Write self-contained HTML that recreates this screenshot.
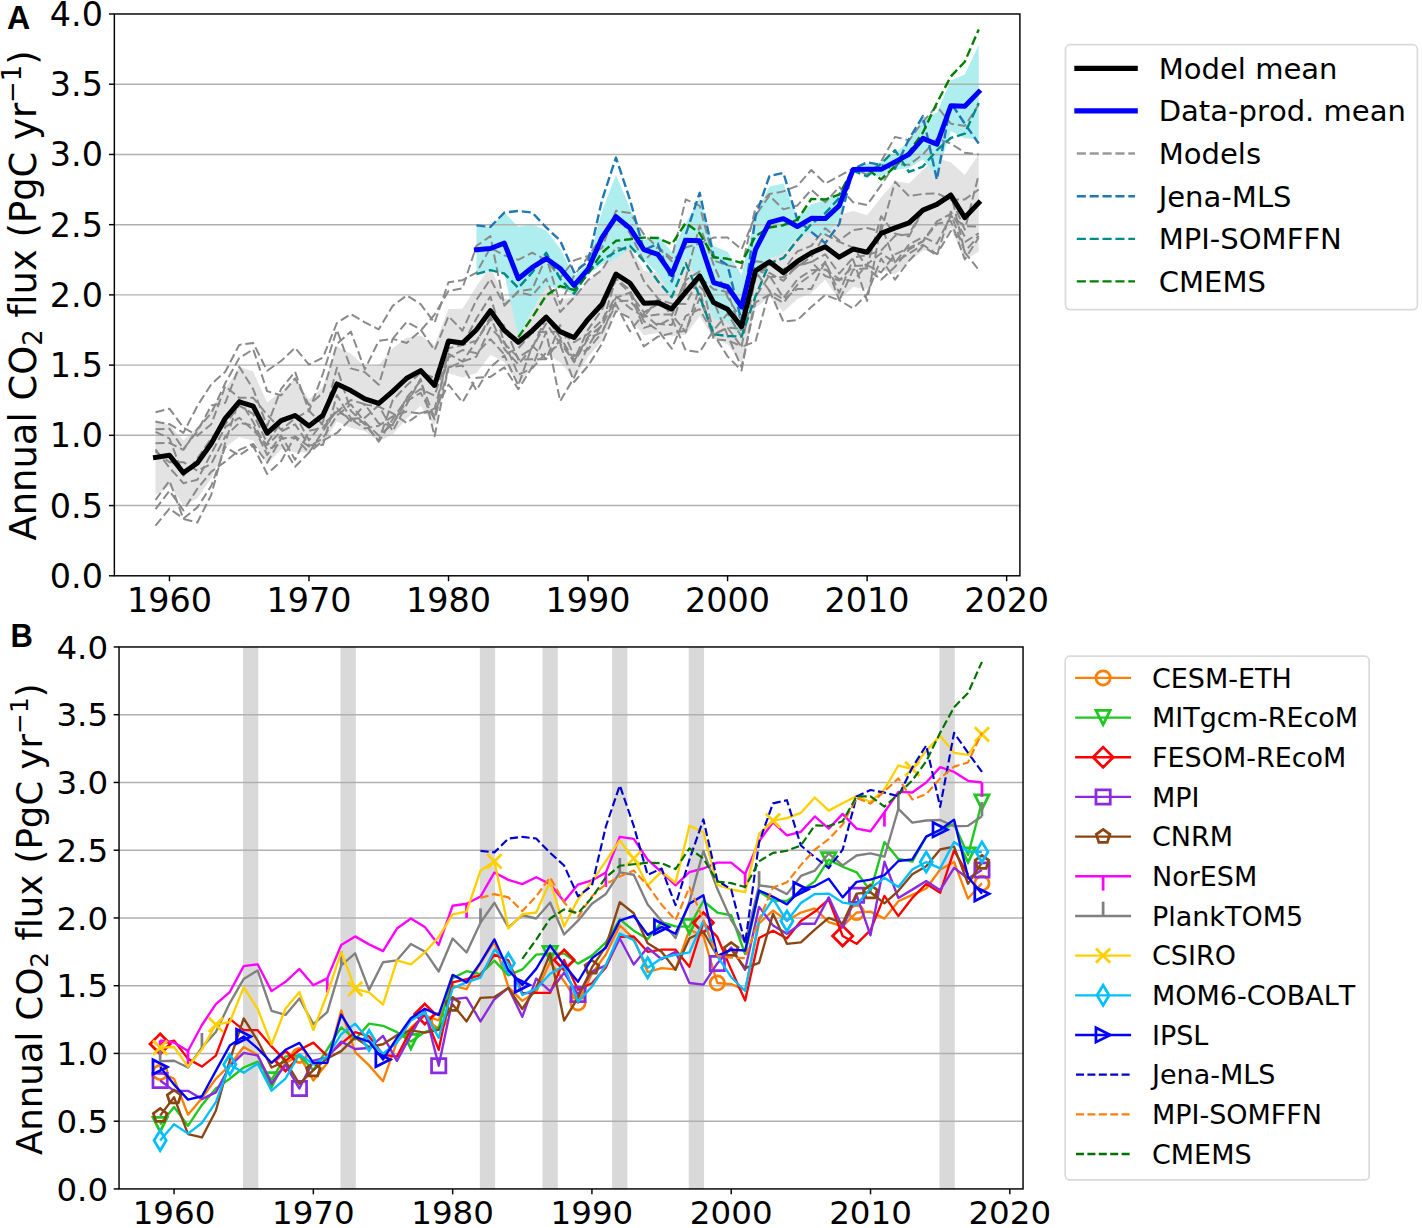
<!DOCTYPE html>
<html lang="en"><head><meta charset="utf-8"><title>Annual CO2 flux</title>
<style>html,body{margin:0;padding:0;background:#fff}svg{display:block}</style></head>
<body>
<svg width="1422" height="1228" viewBox="0 0 1422 1228" font-family="'DejaVu Sans','Liberation Sans',sans-serif" fill="#000" style="font-variant-ligatures:none;font-kerning:none">
<rect width="1422" height="1228" fill="#fff"/>
<g id="panelA">
<clipPath id="clipA"><rect x="114.35" y="13.98" width="905.55" height="561.82"/></clipPath>
<g clip-path="url(#clipA)">
<polygon points="155.51,419.73 169.46,424.88 183.42,440.28 197.37,427.27 211.32,408.88 225.28,389.27 239.23,366.76 253.18,371.61 267.14,402.26 281.09,392.26 295.04,378.78 308.99,399.29 322.95,386.69 336.90,346.39 350.85,353.42 364.81,366.42 378.76,365.23 392.71,348.20 406.67,337.66 420.62,335.41 434.57,345.06 448.52,308.89 462.48,308.64 476.43,286.31 490.38,266.54 504.34,298.48 518.29,299.65 532.24,294.05 546.20,280.19 560.15,301.11 574.10,296.25 588.05,281.62 602.01,267.73 615.96,238.96 629.91,246.68 643.87,270.95 657.82,272.27 671.77,281.66 685.73,249.52 699.68,235.69 713.63,266.87 727.58,274.60 741.54,289.30 755.49,233.52 769.44,226.78 783.40,233.33 797.35,223.93 811.30,212.62 825.26,214.08 839.21,214.40 853.16,211.02 867.11,215.15 881.07,197.52 895.02,181.10 908.97,183.61 922.93,169.70 936.88,158.13 950.83,162.20 964.79,174.89 978.74,154.32 978.74,251.46 964.79,260.31 950.83,227.98 936.88,250.63 922.93,250.62 908.97,262.09 895.02,274.57 881.07,269.23 867.11,289.32 853.16,287.10 839.21,299.94 825.26,279.41 811.30,292.88 797.35,298.96 783.40,311.81 769.44,296.74 755.49,308.05 741.54,363.97 727.58,344.07 713.63,338.25 699.68,316.28 685.73,334.81 671.77,336.28 657.82,332.99 643.87,335.36 629.91,319.34 615.96,309.30 602.01,340.73 588.05,357.04 574.10,378.64 560.15,362.21 546.20,354.03 532.24,367.28 518.29,384.83 504.34,362.12 490.38,354.90 476.43,373.05 462.48,377.52 448.52,373.20 434.57,425.85 420.62,405.75 406.67,418.76 392.71,434.43 378.76,441.61 364.81,431.32 350.85,427.72 336.90,421.54 322.95,443.94 308.99,452.61 295.04,452.22 281.09,449.15 267.14,464.19 253.18,440.48 239.23,436.91 225.28,447.24 211.32,478.10 197.37,498.57 183.42,505.35 169.46,485.70 155.51,495.01" fill="#e3e3e3"/>
<polygon points="476.43,225.36 490.38,226.91 504.34,212.58 518.29,226.68 532.24,224.53 546.20,230.50 560.15,248.48 574.10,276.09 588.05,263.71 602.01,210.90 615.96,174.63 629.91,207.63 643.87,240.02 657.82,235.20 671.77,252.10 685.73,223.22 699.68,198.17 713.63,245.98 727.58,251.78 741.54,275.14 755.49,215.73 769.44,186.47 783.40,183.61 797.35,216.93 811.30,204.26 825.26,200.37 839.21,192.38 853.16,168.67 867.11,163.40 881.07,162.23 895.02,153.57 908.97,140.82 922.93,117.38 936.88,112.63 950.83,80.59 964.79,74.54 978.74,44.73 978.74,139.13 964.79,138.16 950.83,130.99 936.88,175.92 922.93,159.37 908.97,167.95 895.02,170.09 881.07,176.51 867.11,174.88 853.16,170.26 839.21,218.74 825.26,236.87 811.30,232.33 797.35,236.14 783.40,253.73 769.44,258.17 755.49,283.60 741.54,338.66 727.58,321.71 713.63,319.08 699.68,283.36 685.73,257.10 671.77,296.57 657.82,273.40 643.87,259.30 629.91,248.62 615.96,258.87 602.01,264.18 588.05,274.76 574.10,294.69 560.15,288.39 546.20,286.61 532.24,310.37 518.29,337.03 504.34,273.54 490.38,270.17 476.43,274.10" fill="#afeeee"/>
<line x1="114.35" x2="1019.9" y1="505.57" y2="505.57" stroke="#b0b0b0" stroke-width="1.45"/>
<line x1="114.35" x2="1019.9" y1="435.34" y2="435.34" stroke="#b0b0b0" stroke-width="1.45"/>
<line x1="114.35" x2="1019.9" y1="365.12" y2="365.12" stroke="#b0b0b0" stroke-width="1.45"/>
<line x1="114.35" x2="1019.9" y1="294.89" y2="294.89" stroke="#b0b0b0" stroke-width="1.45"/>
<line x1="114.35" x2="1019.9" y1="224.66" y2="224.66" stroke="#b0b0b0" stroke-width="1.45"/>
<line x1="114.35" x2="1019.9" y1="154.44" y2="154.44" stroke="#b0b0b0" stroke-width="1.45"/>
<line x1="114.35" x2="1019.9" y1="84.21" y2="84.21" stroke="#b0b0b0" stroke-width="1.45"/>
<polyline points="155.51,431.83 169.46,438.44 183.42,475.66 197.37,458.52 211.32,438.44 225.28,424.25 239.23,405.57 253.18,413.86 267.14,443.07 281.09,422.00 295.04,414.28 308.99,440.26 322.95,422.00 336.90,367.65 350.85,410.77 364.81,424.53 378.76,440.96 392.71,400.23 406.67,385.48 420.62,372.84 434.57,377.90 448.52,341.94 462.48,345.59 476.43,318.49 490.38,296.44 504.34,343.35 518.29,357.67 532.24,348.26 546.20,317.36 560.15,337.31 574.10,359.78 588.05,329.58 602.01,309.64 615.96,279.44 629.91,293.06 643.87,327.90 657.82,323.68 671.77,325.09 685.73,283.79 699.68,290.40 713.63,339.13 727.58,340.26 741.54,346.30 755.49,277.33 769.44,263.99 783.40,274.52 797.35,266.10 811.30,261.88 825.26,276.07 839.21,280.49 853.16,266.10 867.11,265.11 881.07,272.42 895.02,254.44 908.97,247.84 922.93,241.24 936.88,221.43 950.83,213.78 964.79,251.63 978.74,235.76" fill="none" stroke="#8a8a8a" stroke-width="2.0" stroke-dasharray="9 3.9" stroke-linejoin="round"/>
<polyline points="155.51,509.08 169.46,490.82 183.42,510.35 197.37,488.72 211.32,471.58 225.28,461.61 239.23,449.95 253.18,443.91 267.14,462.73 281.09,438.44 295.04,437.31 308.99,452.62 322.95,431.13 336.90,408.38 350.85,420.88 364.81,404.44 378.76,406.69 392.71,413.29 406.67,422.98 420.62,413.15 434.57,408.66 448.52,357.25 462.48,350.09 476.43,353.18 490.38,339.13 504.34,354.44 518.29,348.26 532.24,332.95 546.20,331.83 560.15,331.83 574.10,342.22 588.05,333.94 602.01,320.17 615.96,296.29 629.91,308.09 643.87,316.80 657.82,299.24 671.77,303.67 685.73,303.88 699.68,277.33 713.63,289.27 727.58,292.08 741.54,332.25 755.49,267.50 769.44,276.77 783.40,277.33 797.35,266.80 811.30,256.97 825.26,234.49 839.21,241.80 853.16,247.56 867.11,266.80 881.07,216.24 895.02,233.65 908.97,236.46 922.93,210.62 936.88,204.02 950.83,197.41 964.79,229.72 978.74,174.66" fill="none" stroke="#8a8a8a" stroke-width="2.0" stroke-dasharray="9 3.9" stroke-linejoin="round"/>
<polyline points="155.51,412.17 169.46,408.66 183.42,427.62 197.37,435.63 211.32,424.25 225.28,386.19 239.23,397.84 253.18,397.84 267.14,414.70 281.09,429.73 295.04,418.49 308.99,410.77 322.95,424.81 336.90,411.89 350.85,399.95 364.81,404.30 378.76,423.41 392.71,425.23 406.67,397.56 420.62,381.13 434.57,418.35 448.52,348.26 462.48,345.03 476.43,340.82 490.38,319.61 504.34,325.51 518.29,359.50 532.24,359.22 546.20,359.22 560.15,325.09 574.10,355.99 588.05,349.25 602.01,332.81 615.96,301.21 629.91,300.79 643.87,316.66 657.82,314.41 671.77,314.41 685.73,332.11 699.68,286.46 713.63,301.21 727.58,335.34 741.54,367.22 755.49,302.33 769.44,294.75 783.40,302.90 797.35,284.78 811.30,274.95 825.26,262.30 839.21,300.23 853.16,308.37 867.11,294.19 881.07,258.65 895.02,279.58 908.97,260.90 922.93,246.15 936.88,255.42 950.83,211.60 964.79,236.60" fill="none" stroke="#8a8a8a" stroke-width="2.0" stroke-dasharray="9 3.9" stroke-linejoin="round"/>
<polyline points="155.51,451.50 169.46,462.17 183.42,462.17 197.37,470.74 211.32,463.72 225.28,436.47 239.23,422.84 253.18,425.51 267.14,454.87 281.09,435.20 295.04,459.78 308.99,430.85 322.95,427.62 336.90,411.19 350.85,418.77 364.81,417.79 378.76,405.15 392.71,431.13 406.67,404.44 420.62,378.74 434.57,436.19 448.52,367.22 462.48,365.54 476.43,390.26 490.38,367.22 504.34,355.43 518.29,385.48 532.24,345.73 546.20,358.94 560.15,339.70 574.10,362.31 588.05,338.57 602.01,332.11 615.96,304.30 629.91,331.27 643.87,313.71 657.82,325.79 671.77,318.07 685.73,350.37 699.68,352.06 713.63,330.14 727.58,313.71 741.54,336.75 755.49,271.43 769.44,290.68 783.40,299.38 797.35,288.99 811.30,288.99 825.26,261.60 839.21,292.78 853.16,259.35 867.11,300.93 881.07,224.66 895.02,262.30 908.97,253.60 922.93,244.75 936.88,254.16 950.83,230.98 964.79,242.08 978.74,233.23" fill="none" stroke="#8a8a8a" stroke-width="2.0" stroke-dasharray="9 3.9" stroke-linejoin="round"/>
<polyline points="155.51,499.81 169.46,480.71 183.42,518.92 197.37,522.43 211.32,494.76 225.28,442.37 239.23,399.11 253.18,422.00 267.14,449.95 281.09,443.35 295.04,466.81 308.99,452.62 322.95,440.54 336.90,432.96 350.85,418.77 364.81,428.60 378.76,425.79 392.71,416.38 406.67,411.47 420.62,413.71 434.57,410.91 448.52,384.64 462.48,402.20 476.43,377.76 490.38,376.92 504.34,367.36 518.29,389.28 532.24,367.08 546.20,331.83 560.15,401.21 574.10,377.48 588.05,346.16 602.01,324.39 615.96,278.46 629.91,289.97 643.87,321.23 657.82,330.00 671.77,348.68 685.73,315.96 699.68,309.22 713.63,334.36 727.58,327.76 741.54,346.86 755.49,341.52 769.44,290.54 783.40,321.72 797.35,320.17 811.30,306.97 825.26,294.89 839.21,300.37 853.16,269.61 867.11,268.20 881.07,279.72 895.02,266.80 908.97,249.52 922.93,241.38 936.88,223.82 950.83,221.01 964.79,259.50 978.74,237.44" fill="none" stroke="#8a8a8a" stroke-width="2.0" stroke-dasharray="9 3.9" stroke-linejoin="round"/>
<polyline points="155.51,421.72 169.46,424.11 183.42,432.82 197.37,405.85 211.32,384.22 225.28,371.72 239.23,344.89 253.18,342.93 267.14,370.74 281.09,361.04 295.04,347.70 308.99,364.56 322.95,357.53 336.90,322.98 350.85,313.99 364.81,322.28 378.76,329.30 392.71,305.85 406.67,295.45 420.62,304.16 434.57,322.84 448.52,282.25 462.48,280.14 476.43,272.70 490.38,247.70 504.34,255.42 518.29,259.78 532.24,252.75 546.20,259.78 560.15,277.89 574.10,260.34 588.05,255.98 602.01,247.84 615.96,210.76 629.91,213.00 643.87,234.35 657.82,247.42 671.77,261.18 685.73,247.42 699.68,243.62 713.63,237.58 727.58,237.58 741.54,249.38 755.49,215.39 769.44,195.73 783.40,209.35 797.35,205.56 811.30,189.69 825.26,202.33 839.21,187.02 853.16,202.33 867.11,205.00 881.07,185.34 895.02,164.27 908.97,164.83 922.93,154.44 936.88,138.56 950.83,143.48 964.79,152.75 978.74,154.44" fill="none" stroke="#8a8a8a" stroke-width="2.0" stroke-dasharray="9 3.9" stroke-linejoin="round"/>
<polyline points="155.51,443.35 169.46,442.93 183.42,449.95 197.37,429.02 211.32,413.15 225.28,383.10 239.23,358.09 253.18,349.25 267.14,391.10 281.09,395.46 295.04,378.32 308.99,405.01 322.95,392.51 336.90,344.05 350.85,331.55 364.81,369.47 378.76,340.82 392.71,338.85 406.67,321.86 420.62,329.58 434.57,350.37 448.52,316.24 462.48,330.71 476.43,299.81 490.38,279.16 504.34,304.72 518.29,292.08 532.24,295.45 546.20,278.88 560.15,312.03 574.10,297.70 588.05,280.14 602.01,270.03 615.96,247.56 629.91,250.08 643.87,280.84 657.82,298.12 671.77,315.68 685.73,278.04 699.68,225.51 713.63,264.69 727.58,297.14 741.54,320.17 755.49,261.18 769.44,262.87 783.40,270.17 797.35,251.35 811.30,245.87 825.26,228.17 839.21,240.39 853.16,230.14 867.11,228.03 881.07,231.40 895.02,181.82 908.97,196.15 922.93,193.90 936.88,193.34 950.83,199.80 964.79,199.38 978.74,189.55" fill="none" stroke="#8a8a8a" stroke-width="2.0" stroke-dasharray="9 3.9" stroke-linejoin="round"/>
<polyline points="155.51,429.31 169.46,428.74 183.42,448.97 197.37,431.13 211.32,405.57 225.28,402.76 239.23,366.80 253.18,389.14 267.14,426.07 281.09,388.99 295.04,371.72 308.99,411.05 322.95,373.54 336.90,330.00 350.85,368.35 364.81,372.14 378.76,384.78 392.71,338.85 406.67,342.93 420.62,330.71 434.57,314.55 448.52,291.10 462.48,288.29 476.43,245.87 490.38,236.18 504.34,305.85 518.29,291.10 532.24,289.27 546.20,256.97 560.15,303.74 574.10,275.65 588.05,256.97 602.01,235.90 615.96,214.55 629.91,233.23 643.87,261.18 657.82,246.85 671.77,258.37 685.73,199.38 699.68,205.84 713.63,260.48 727.58,265.39 741.54,268.20 755.49,207.81 769.44,194.04 783.40,191.37 797.35,185.90 811.30,170.03 825.26,183.65 839.21,176.07 853.16,168.48 867.11,174.66 881.07,161.46 895.02,136.88 908.97,140.39 922.93,121.57 936.88,106.12 950.83,123.68 964.79,125.92 978.74,104.57" fill="none" stroke="#8a8a8a" stroke-width="2.0" stroke-dasharray="9 3.9" stroke-linejoin="round"/>
<polyline points="155.51,525.52 169.46,508.66 183.42,518.49 197.37,507.40 211.32,485.77 225.28,446.93 239.23,455.43 253.18,445.88 267.14,473.97 281.09,461.33 295.04,436.19 308.99,446.58 322.95,438.44 336.90,415.40 350.85,404.44 364.81,422.00 378.76,435.63 392.71,424.11 406.67,401.07 420.62,392.79 434.57,419.19 448.52,367.65 462.48,361.61 476.43,356.69 490.38,327.76 504.34,341.94 518.29,374.81 532.24,368.21 546.20,352.76 560.15,344.47 574.10,381.97 588.05,365.96 602.01,343.63 615.96,311.04 629.91,317.92 643.87,346.44 657.82,336.61 671.77,333.23 685.73,330.57 699.68,298.12 713.63,334.36 727.58,356.34 741.54,370.60 755.49,297.00 769.44,275.23 783.40,298.12 797.35,279.44 811.30,270.17 825.26,269.61 839.21,279.02 853.16,281.13 867.11,264.27 881.07,253.32 895.02,262.73 908.97,244.61 922.93,236.95 936.88,243.48 950.83,216.09 964.79,226.07 978.74,226.49" fill="none" stroke="#8a8a8a" stroke-width="2.0" stroke-dasharray="9 3.9" stroke-linejoin="round"/>
<polyline points="155.51,449.39 169.46,467.65 183.42,483.24 197.37,479.73 211.32,453.46 225.28,427.20 239.23,417.79 253.18,430.15 267.14,445.04 281.09,431.55 295.04,424.39 308.99,445.18 322.95,445.04 336.90,395.17 350.85,418.21 364.81,423.13 378.76,441.67 392.71,419.19 406.67,398.83 420.62,388.99 434.57,395.60 448.52,353.88 462.48,361.61 476.43,341.24 490.38,317.08 504.34,348.97 518.29,364.42 532.24,347.70 546.20,323.54 560.15,343.35 574.10,361.04 588.05,336.75 602.01,325.79 615.96,297.70 629.91,292.64 643.87,312.45 657.82,304.16 671.77,311.32 685.73,280.14 699.68,271.29 713.63,334.36 727.58,327.76 741.54,328.60 755.49,266.38 769.44,272.98 783.40,280.84 797.35,265.39 811.30,262.02 825.26,254.30 839.21,273.54 853.16,257.53 867.11,255.14 881.07,250.51 895.02,235.90 908.97,234.21 922.93,210.62 936.88,203.45 950.83,193.06 964.79,252.33 978.74,269.89" fill="none" stroke="#8a8a8a" stroke-width="2.0" stroke-dasharray="9 3.9" stroke-linejoin="round"/>
<polyline points="476.43,225.36 490.38,226.91 504.34,212.58 518.29,210.90 532.24,212.58 546.20,227.47 560.15,240.53 574.10,272.42 588.05,261.46 602.01,200.08 615.96,157.53 629.91,199.38 643.87,250.23 657.82,243.62 671.77,281.69 685.73,234.49 699.68,192.78 713.63,256.12 727.58,265.39 741.54,321.23 755.49,216.52 769.44,176.07 783.40,172.83 797.35,219.75 811.30,231.83 825.26,243.20 839.21,224.10 853.16,168.90 867.11,162.30 881.07,164.97 895.02,168.76 908.97,138.98 922.93,116.09 936.88,179.72 950.83,102.89 964.79,123.68 978.74,143.48" fill="none" stroke="#1f77b4" stroke-width="2.4" stroke-dasharray="9 3.9" stroke-linejoin="round"/>
<polyline points="476.43,274.10 490.38,270.17 504.34,273.54 518.29,287.87 532.24,272.42 546.20,252.75 560.15,278.74 574.10,293.77 588.05,272.42 602.01,259.78 615.96,251.91 629.91,245.73 643.87,261.18 657.82,281.13 671.77,297.14 685.73,263.15 699.68,296.29 713.63,334.22 727.58,336.04 741.54,336.61 755.49,296.29 769.44,263.43 783.40,257.95 797.35,240.11 811.30,224.10 825.26,213.15 839.21,197.98 853.16,170.59 867.11,176.35 881.07,163.71 895.02,150.22 908.97,171.99 922.93,166.51 936.88,150.22 950.83,138.00 964.79,133.65 978.74,102.89" fill="none" stroke="#008b8b" stroke-width="2.4" stroke-dasharray="9 3.9" stroke-linejoin="round"/>
<polyline points="518.29,337.31 532.24,317.36 546.20,295.45 560.15,286.04 574.10,289.97 588.05,273.82 602.01,252.75 615.96,240.81 629.91,239.27 643.87,237.58 657.82,238.15 671.77,244.19 685.73,222.84 699.68,233.23 713.63,257.25 727.58,258.79 741.54,262.87 755.49,236.18 769.44,227.47 783.40,225.22 797.35,219.75 811.30,198.96 825.26,199.52 839.21,194.61 853.16,168.90 867.11,168.76 881.07,179.44 895.02,166.51 908.97,152.19 922.93,132.52 936.88,102.89 950.83,76.48 964.79,61.73 978.74,29.43" fill="none" stroke="#008000" stroke-width="2.4" stroke-dasharray="9 3.9" stroke-linejoin="round"/>
<polyline points="155.51,457.37 169.46,455.29 183.42,472.82 197.37,462.92 211.32,443.49 225.28,418.26 239.23,401.83 253.18,406.05 267.14,433.22 281.09,420.71 295.04,415.50 308.99,425.95 322.95,415.32 336.90,383.97 350.85,390.57 364.81,398.87 378.76,403.42 392.71,391.31 406.67,378.21 420.62,370.58 434.57,385.46 448.52,341.04 462.48,343.08 476.43,329.68 490.38,310.72 504.34,330.30 518.29,342.24 532.24,330.66 546.20,317.11 560.15,331.66 574.10,337.45 588.05,319.33 602.01,304.23 615.96,274.13 629.91,283.01 643.87,303.16 657.82,302.63 671.77,308.97 685.73,292.17 699.68,275.98 713.63,302.56 727.58,309.34 741.54,326.63 755.49,270.79 769.44,261.76 783.40,272.57 797.35,261.45 811.30,252.75 825.26,246.74 839.21,257.17 853.16,249.06 867.11,252.23 881.07,233.37 895.02,227.84 908.97,222.85 922.93,210.16 936.88,204.38 950.83,195.09 964.79,217.60 978.74,202.89" fill="none" stroke="#000" stroke-width="5.0" stroke-linejoin="round" stroke-linecap="square"/>
<polyline points="476.43,249.73 490.38,248.54 504.34,243.06 518.29,278.69 532.24,267.45 546.20,258.56 560.15,268.44 574.10,285.39 588.05,269.23 602.01,237.54 615.96,216.75 629.91,228.13 643.87,249.66 657.82,254.30 671.77,274.34 685.73,240.16 699.68,240.77 713.63,282.53 727.58,286.74 741.54,306.90 755.49,249.66 769.44,222.32 783.40,218.67 797.35,226.54 811.30,218.30 825.26,218.62 839.21,205.56 853.16,169.46 867.11,169.14 881.07,169.37 895.02,161.83 908.97,154.39 922.93,138.38 936.88,144.28 950.83,105.79 964.79,106.35 978.74,91.93" fill="none" stroke="#0000ff" stroke-width="5.0" stroke-linejoin="round" stroke-linecap="square"/>
</g>
<rect x="114.35" y="13.98" width="905.55" height="561.82" fill="none" stroke="#000" stroke-width="1.45"/>
<line x1="108.94999999999999" x2="114.35" y1="575.80" y2="575.80" stroke="#000" stroke-width="1.45"/>
<text x="102.90" y="587.82" font-size="33.4" text-anchor="end">0.0</text>
<line x1="108.94999999999999" x2="114.35" y1="505.57" y2="505.57" stroke="#000" stroke-width="1.45"/>
<text x="102.90" y="517.60" font-size="33.4" text-anchor="end">0.5</text>
<line x1="108.94999999999999" x2="114.35" y1="435.34" y2="435.34" stroke="#000" stroke-width="1.45"/>
<text x="102.90" y="447.37" font-size="33.4" text-anchor="end">1.0</text>
<line x1="108.94999999999999" x2="114.35" y1="365.12" y2="365.12" stroke="#000" stroke-width="1.45"/>
<text x="102.90" y="377.14" font-size="33.4" text-anchor="end">1.5</text>
<line x1="108.94999999999999" x2="114.35" y1="294.89" y2="294.89" stroke="#000" stroke-width="1.45"/>
<text x="102.90" y="306.91" font-size="33.4" text-anchor="end">2.0</text>
<line x1="108.94999999999999" x2="114.35" y1="224.66" y2="224.66" stroke="#000" stroke-width="1.45"/>
<text x="102.90" y="236.69" font-size="33.4" text-anchor="end">2.5</text>
<line x1="108.94999999999999" x2="114.35" y1="154.44" y2="154.44" stroke="#000" stroke-width="1.45"/>
<text x="102.90" y="166.46" font-size="33.4" text-anchor="end">3.0</text>
<line x1="108.94999999999999" x2="114.35" y1="84.21" y2="84.21" stroke="#000" stroke-width="1.45"/>
<text x="102.90" y="96.23" font-size="33.4" text-anchor="end">3.5</text>
<line x1="108.94999999999999" x2="114.35" y1="13.98" y2="13.98" stroke="#000" stroke-width="1.45"/>
<text x="102.90" y="26.00" font-size="33.4" text-anchor="end">4.0</text>
<line x1="169.46" x2="169.46" y1="575.8" y2="581.1999999999999" stroke="#000" stroke-width="1.45"/>
<text x="169.46" y="612.30" font-size="33.4" text-anchor="middle">1960</text>
<line x1="308.99" x2="308.99" y1="575.8" y2="581.1999999999999" stroke="#000" stroke-width="1.45"/>
<text x="308.99" y="612.30" font-size="33.4" text-anchor="middle">1970</text>
<line x1="448.52" x2="448.52" y1="575.8" y2="581.1999999999999" stroke="#000" stroke-width="1.45"/>
<text x="448.52" y="612.30" font-size="33.4" text-anchor="middle">1980</text>
<line x1="588.05" x2="588.05" y1="575.8" y2="581.1999999999999" stroke="#000" stroke-width="1.45"/>
<text x="588.05" y="612.30" font-size="33.4" text-anchor="middle">1990</text>
<line x1="727.58" x2="727.58" y1="575.8" y2="581.1999999999999" stroke="#000" stroke-width="1.45"/>
<text x="727.58" y="612.30" font-size="33.4" text-anchor="middle">2000</text>
<line x1="867.11" x2="867.11" y1="575.8" y2="581.1999999999999" stroke="#000" stroke-width="1.45"/>
<text x="867.11" y="612.30" font-size="33.4" text-anchor="middle">2010</text>
<line x1="1006.64" x2="1006.64" y1="575.8" y2="581.1999999999999" stroke="#000" stroke-width="1.45"/>
<text x="1006.64" y="612.30" font-size="33.4" text-anchor="middle">2020</text>
<text transform="translate(35.60,295.49) rotate(-90)" font-size="36.9" text-anchor="middle">Annual CO<tspan font-size="25.83" dy="6.46">2</tspan><tspan dy="-6.46"> flux (PgC yr</tspan><tspan font-size="25.83" dy="-14.76">−1</tspan><tspan dy="14.76">)</tspan></text>
<text transform="translate(6.9,29.1) scale(0.965,1)" font-family="'Liberation Sans',sans-serif" font-weight="bold" font-size="33.3">A</text>
<rect x="1065.5" y="44.7" width="351.9" height="264.9" rx="4.5" fill="#fff" stroke="#dadada" stroke-width="1.7"/>
<line x1="1076.9" x2="1135.2" y1="68.4" y2="68.4" stroke="#000" stroke-width="5.2" stroke-linecap="square"/>
<text x="1158.7" y="78.90" font-size="29.05">Model mean</text>
<line x1="1076.9" x2="1135.2" y1="110.8" y2="110.8" stroke="#0000ff" stroke-width="5.2" stroke-linecap="square"/>
<text x="1158.7" y="121.30" font-size="29.05">Data-prod. mean</text>
<line x1="1076.8" x2="1135.0" y1="153.5" y2="153.5" stroke="#999" stroke-width="2.4" stroke-dasharray="9.1 3.77"/>
<text x="1158.7" y="164.00" font-size="29.05">Models</text>
<line x1="1076.8" x2="1135.0" y1="196.2" y2="196.2" stroke="#1f77b4" stroke-width="2.4" stroke-dasharray="9.1 3.77"/>
<text x="1158.7" y="206.70" font-size="29.05">Jena-MLS</text>
<line x1="1076.8" x2="1135.0" y1="238.9" y2="238.9" stroke="#008b8b" stroke-width="2.4" stroke-dasharray="9.1 3.77"/>
<text x="1158.7" y="249.40" font-size="29.05">MPI-SOMFFN</text>
<line x1="1076.8" x2="1135.0" y1="281.4" y2="281.4" stroke="#008000" stroke-width="2.4" stroke-dasharray="9.1 3.77"/>
<text x="1158.7" y="291.90" font-size="29.05">CMEMS</text>
</g>
<g id="panelB">
<clipPath id="clipB"><rect x="119.04" y="646.97" width="904.00" height="541.96"/></clipPath>
<g clip-path="url(#clipB)">
<rect x="243.01" y="646.97" width="15.32" height="541.96" fill="#d9d9d9"/>
<rect x="340.51" y="646.97" width="15.32" height="541.96" fill="#d9d9d9"/>
<rect x="479.80" y="646.97" width="15.32" height="541.96" fill="#d9d9d9"/>
<rect x="542.49" y="646.97" width="15.32" height="541.96" fill="#d9d9d9"/>
<rect x="612.13" y="646.97" width="15.32" height="541.96" fill="#d9d9d9"/>
<rect x="688.74" y="646.97" width="15.32" height="541.96" fill="#d9d9d9"/>
<rect x="939.47" y="646.97" width="15.32" height="541.96" fill="#d9d9d9"/>
<line x1="119.04" x2="1023.04" y1="1121.18" y2="1121.18" stroke="#b0b0b0" stroke-width="1.45"/>
<line x1="119.04" x2="1023.04" y1="1053.44" y2="1053.44" stroke="#b0b0b0" stroke-width="1.45"/>
<line x1="119.04" x2="1023.04" y1="985.70" y2="985.70" stroke="#b0b0b0" stroke-width="1.45"/>
<line x1="119.04" x2="1023.04" y1="917.95" y2="917.95" stroke="#b0b0b0" stroke-width="1.45"/>
<line x1="119.04" x2="1023.04" y1="850.21" y2="850.21" stroke="#b0b0b0" stroke-width="1.45"/>
<line x1="119.04" x2="1023.04" y1="782.46" y2="782.46" stroke="#b0b0b0" stroke-width="1.45"/>
<line x1="119.04" x2="1023.04" y1="714.72" y2="714.72" stroke="#b0b0b0" stroke-width="1.45"/>
<polyline points="160.13,1072.41 174.06,1078.78 187.99,1114.68 201.92,1098.15 215.85,1078.78 229.78,1065.09 243.71,1047.07 257.63,1055.07 271.56,1083.25 285.49,1062.92 299.42,1055.47 313.35,1080.54 327.28,1062.92 341.21,1010.49 355.14,1052.09 369.07,1065.36 383.00,1081.22 396.93,1041.92 410.86,1027.70 424.78,1015.50 438.71,1020.38 452.64,985.70 466.57,989.22 480.50,963.07 494.43,941.80 508.36,987.05 522.29,1000.87 536.22,991.79 550.15,961.98 564.08,981.22 578.00,1002.90 591.93,973.77 605.86,954.53 619.79,925.40 633.72,938.54 647.65,972.15 661.58,968.08 675.51,969.44 689.44,929.60 703.37,935.97 717.30,982.99 731.22,984.07 745.15,989.90 759.08,923.37 773.01,910.50 786.94,920.66 800.87,912.53 814.80,908.47 828.73,922.15 842.66,926.42 856.59,912.53 870.52,911.58 884.45,918.63 898.37,901.28 912.30,894.92 926.23,888.55 940.16,869.44 954.09,862.06 968.02,898.57 981.95,883.26" fill="none" stroke="#ff8000" stroke-width="2.35" stroke-linejoin="round"/>
<circle cx="160.13" cy="1072.41" r="7.15" fill="none" stroke="#ff8000" stroke-width="2.75"/>
<circle cx="299.42" cy="1055.47" r="7.15" fill="none" stroke="#ff8000" stroke-width="2.75"/>
<circle cx="438.71" cy="1020.38" r="7.15" fill="none" stroke="#ff8000" stroke-width="2.75"/>
<circle cx="578.00" cy="1002.90" r="7.15" fill="none" stroke="#ff8000" stroke-width="2.75"/>
<circle cx="717.30" cy="982.99" r="7.15" fill="none" stroke="#ff8000" stroke-width="2.75"/>
<circle cx="856.59" cy="912.53" r="7.15" fill="none" stroke="#ff8000" stroke-width="2.75"/>
<circle cx="981.95" cy="883.26" r="7.15" fill="none" stroke="#ff8000" stroke-width="2.75"/>
<polyline points="160.13,1124.57 174.06,1106.96 187.99,1125.79 201.92,1104.93 215.85,1088.40 229.78,1078.78 243.71,1067.53 257.63,1061.70 271.56,1079.86 285.49,1056.42 299.42,1055.34 313.35,1070.11 327.28,1049.38 341.21,1027.43 355.14,1039.48 369.07,1023.63 383.00,1025.80 396.93,1032.17 410.86,1041.52 424.78,1032.03 438.71,1027.70 452.64,978.11 466.57,971.20 480.50,974.18 494.43,960.63 508.36,975.40 522.29,969.44 536.22,954.67 550.15,953.58 564.08,953.58 578.00,963.61 591.93,955.62 605.86,942.34 619.79,919.30 633.72,930.69 647.65,939.09 661.58,922.15 675.51,926.42 689.44,926.62 703.37,901.01 717.30,912.53 731.22,915.24 745.15,953.99 759.08,891.53 773.01,900.47 786.94,901.01 800.87,890.85 814.80,881.37 828.73,859.69 842.66,866.73 856.59,872.29 870.52,890.85 884.45,842.08 898.37,858.88 912.30,861.59 926.23,836.66 940.16,830.29 954.09,823.92 968.02,855.08 981.95,801.97" fill="none" stroke="#1ec81e" stroke-width="2.35" stroke-linejoin="round"/>
<polygon points="152.98,1117.42 167.28,1117.42 160.13,1131.72" fill="none" stroke="#1ec81e" stroke-width="2.75" stroke-linejoin="miter"/>
<polygon points="264.41,1072.71 278.71,1072.71 271.56,1087.01" fill="none" stroke="#1ec81e" stroke-width="2.75" stroke-linejoin="miter"/>
<polygon points="403.71,1034.37 418.01,1034.37 410.86,1048.67" fill="none" stroke="#1ec81e" stroke-width="2.75" stroke-linejoin="miter"/>
<polygon points="543.00,946.43 557.30,946.43 550.15,960.73" fill="none" stroke="#1ec81e" stroke-width="2.75" stroke-linejoin="miter"/>
<polygon points="682.29,919.47 696.59,919.47 689.44,933.77" fill="none" stroke="#1ec81e" stroke-width="2.75" stroke-linejoin="miter"/>
<polygon points="821.58,852.54 835.88,852.54 828.73,866.84" fill="none" stroke="#1ec81e" stroke-width="2.75" stroke-linejoin="miter"/>
<polygon points="960.87,847.93 975.17,847.93 968.02,862.23" fill="none" stroke="#1ec81e" stroke-width="2.75" stroke-linejoin="miter"/>
<polygon points="974.80,794.82 989.10,794.82 981.95,809.12" fill="none" stroke="#1ec81e" stroke-width="2.75" stroke-linejoin="miter"/>
<polyline points="160.13,1043.96 174.06,1040.57 187.99,1058.86 201.92,1066.58 215.85,1055.61 229.78,1018.89 243.71,1030.14 257.63,1030.14 271.56,1046.39 285.49,1060.89 299.42,1050.05 313.35,1042.60 327.28,1056.15 341.21,1043.68 355.14,1032.17 369.07,1036.37 383.00,1054.79 396.93,1056.56 410.86,1029.86 424.78,1014.01 438.71,1049.92 452.64,982.31 466.57,979.19 480.50,975.13 494.43,954.67 508.36,960.36 522.29,993.15 536.22,992.88 550.15,992.88 564.08,959.95 578.00,989.76 591.93,983.26 605.86,967.40 619.79,936.92 633.72,936.51 647.65,951.82 661.58,949.65 675.51,949.65 689.44,966.73 703.37,922.69 717.30,936.92 731.22,969.84 745.15,1000.60 759.08,938.00 773.01,930.69 786.94,938.54 800.87,921.07 814.80,911.58 828.73,899.39 842.66,935.97 856.59,943.83 870.52,930.14 884.45,895.87 898.37,916.05 912.30,898.03 926.23,883.81 940.16,892.75 954.09,850.48 968.02,874.59" fill="none" stroke="#ff0000" stroke-width="2.35" stroke-linejoin="round"/>
<polygon points="160.13,1033.84 170.24,1043.96 160.13,1054.07 150.02,1043.96" fill="none" stroke="#ff0000" stroke-width="2.75" stroke-linejoin="miter"/>
<polygon points="285.49,1050.78 295.60,1060.89 285.49,1071.00 275.38,1060.89" fill="none" stroke="#ff0000" stroke-width="2.75" stroke-linejoin="miter"/>
<polygon points="424.78,1003.90 434.90,1014.01 424.78,1024.12 414.67,1014.01" fill="none" stroke="#ff0000" stroke-width="2.75" stroke-linejoin="miter"/>
<polygon points="564.08,949.84 574.19,959.95 564.08,970.06 553.96,959.95" fill="none" stroke="#ff0000" stroke-width="2.75" stroke-linejoin="miter"/>
<polygon points="703.37,912.58 713.48,922.69 703.37,932.80 693.26,922.69" fill="none" stroke="#ff0000" stroke-width="2.75" stroke-linejoin="miter"/>
<polygon points="842.66,925.86 852.77,935.97 842.66,946.08 832.55,935.97" fill="none" stroke="#ff0000" stroke-width="2.75" stroke-linejoin="miter"/>
<polyline points="160.13,1080.54 174.06,1090.84 187.99,1090.84 201.92,1099.10 215.85,1092.33 229.78,1066.04 243.71,1052.90 257.63,1055.47 271.56,1083.79 285.49,1064.82 299.42,1088.53 313.35,1060.62 327.28,1057.50 341.21,1041.65 355.14,1048.97 369.07,1048.02 383.00,1035.83 396.93,1060.89 410.86,1035.15 424.78,1010.35 438.71,1065.77 452.64,999.24 466.57,997.62 480.50,1021.46 494.43,999.24 508.36,987.86 522.29,1016.86 536.22,978.51 550.15,991.25 564.08,972.69 578.00,994.50 591.93,971.60 605.86,965.37 619.79,938.54 633.72,964.56 647.65,947.62 661.58,959.27 675.51,951.82 689.44,982.99 703.37,984.61 717.30,963.47 731.22,947.62 745.15,969.84 759.08,906.84 773.01,925.40 786.94,933.80 800.87,923.78 814.80,923.78 828.73,897.36 842.66,927.43 856.59,895.19 870.52,935.29 884.45,861.72 898.37,898.03 912.30,889.63 926.23,881.10 940.16,890.17 954.09,867.82 968.02,878.52 981.95,869.99" fill="none" stroke="#8a2be2" stroke-width="2.35" stroke-linejoin="round"/>
<polygon points="152.98,1073.39 167.28,1073.39 167.28,1087.69 152.98,1087.69" fill="none" stroke="#8a2be2" stroke-width="2.75" stroke-linejoin="miter"/>
<polygon points="292.27,1081.38 306.57,1081.38 306.57,1095.68 292.27,1095.68" fill="none" stroke="#8a2be2" stroke-width="2.75" stroke-linejoin="miter"/>
<polygon points="431.56,1058.62 445.86,1058.62 445.86,1072.92 431.56,1072.92" fill="none" stroke="#8a2be2" stroke-width="2.75" stroke-linejoin="miter"/>
<polygon points="570.85,987.35 585.15,987.35 585.15,1001.65 570.85,1001.65" fill="none" stroke="#8a2be2" stroke-width="2.75" stroke-linejoin="miter"/>
<polygon points="710.15,956.32 724.45,956.32 724.45,970.62 710.15,970.62" fill="none" stroke="#8a2be2" stroke-width="2.75" stroke-linejoin="miter"/>
<polygon points="849.44,888.04 863.74,888.04 863.74,902.34 849.44,902.34" fill="none" stroke="#8a2be2" stroke-width="2.75" stroke-linejoin="miter"/>
<polygon points="974.80,862.84 989.10,862.84 989.10,877.14 974.80,877.14" fill="none" stroke="#8a2be2" stroke-width="2.75" stroke-linejoin="miter"/>
<polyline points="160.13,1115.63 174.06,1097.20 187.99,1134.06 201.92,1137.44 215.85,1110.75 229.78,1060.21 243.71,1018.48 257.63,1040.57 271.56,1067.53 285.49,1061.16 299.42,1083.79 313.35,1070.11 327.28,1058.45 341.21,1051.14 355.14,1037.45 369.07,1046.94 383.00,1044.23 396.93,1035.15 410.86,1030.41 424.78,1032.57 438.71,1029.86 452.64,1004.53 466.57,1021.46 480.50,997.89 494.43,997.08 508.36,987.86 522.29,1009.00 536.22,987.59 550.15,953.58 564.08,1020.52 578.00,997.62 591.93,967.40 605.86,946.40 619.79,902.10 633.72,913.21 647.65,943.35 661.58,951.82 675.51,969.84 689.44,938.27 703.37,931.77 717.30,956.02 731.22,949.65 745.15,968.08 759.08,962.93 773.01,913.75 786.94,943.83 800.87,942.34 814.80,929.60 828.73,917.95 842.66,923.23 856.59,893.56 870.52,892.21 884.45,903.32 898.37,890.85 912.30,874.19 926.23,866.33 940.16,849.39 954.09,846.68 968.02,883.81 981.95,862.53" fill="none" stroke="#8b4513" stroke-width="2.35" stroke-linejoin="round"/>
<polygon points="160.13,1108.48 166.93,1113.42 164.33,1121.41 155.93,1121.41 153.33,1113.42" fill="none" stroke="#8b4513" stroke-width="2.75" stroke-linejoin="miter"/>
<polygon points="174.06,1090.05 180.86,1094.99 178.26,1102.99 169.86,1102.99 167.26,1094.99" fill="none" stroke="#8b4513" stroke-width="2.75" stroke-linejoin="miter"/>
<polygon points="313.35,1062.96 320.15,1067.90 317.55,1075.89 309.15,1075.89 306.55,1067.90" fill="none" stroke="#8b4513" stroke-width="2.75" stroke-linejoin="miter"/>
<polygon points="452.64,997.38 459.44,1002.32 456.85,1010.31 448.44,1010.31 445.84,1002.32" fill="none" stroke="#8b4513" stroke-width="2.75" stroke-linejoin="miter"/>
<polygon points="591.93,960.25 598.73,965.19 596.14,973.19 587.73,973.19 585.13,965.19" fill="none" stroke="#8b4513" stroke-width="2.75" stroke-linejoin="miter"/>
<polygon points="731.22,942.50 738.02,947.45 735.43,955.44 727.02,955.44 724.42,947.45" fill="none" stroke="#8b4513" stroke-width="2.75" stroke-linejoin="miter"/>
<polygon points="870.52,885.06 877.32,890.00 874.72,897.99 866.31,897.99 863.72,890.00" fill="none" stroke="#8b4513" stroke-width="2.75" stroke-linejoin="miter"/>
<polygon points="981.95,855.38 988.75,860.33 986.15,868.32 977.75,868.32 975.15,860.33" fill="none" stroke="#8b4513" stroke-width="2.75" stroke-linejoin="miter"/>
<polyline points="160.13,1040.30 174.06,1042.60 187.99,1051.00 201.92,1024.99 215.85,1004.12 229.78,992.06 243.71,966.18 257.63,964.29 271.56,991.11 285.49,981.77 299.42,968.89 313.35,985.15 327.28,978.38 341.21,945.05 355.14,936.38 369.07,944.37 383.00,951.15 396.93,928.52 410.86,918.49 424.78,926.89 438.71,944.91 452.64,905.76 466.57,903.72 480.50,896.54 494.43,872.43 508.36,879.88 522.29,884.08 536.22,877.30 550.15,884.08 564.08,901.56 578.00,884.62 591.93,880.42 605.86,872.56 619.79,836.79 633.72,838.96 647.65,859.55 661.58,872.15 675.51,885.43 689.44,872.15 703.37,868.50 717.30,862.67 731.22,862.67 745.15,874.05 759.08,841.26 773.01,822.29 786.94,835.44 800.87,831.78 814.80,816.47 828.73,828.66 842.66,813.89 856.59,828.66 870.52,831.24 884.45,812.27 898.37,791.94 912.30,792.49 926.23,782.46 940.16,767.15 954.09,771.89 968.02,780.83 981.95,782.46" fill="none" stroke="#ff00ff" stroke-width="2.35" stroke-linejoin="round"/>
<line x1="160.13" x2="160.13" y1="1040.30" y2="1054.60" stroke="#ff00ff" stroke-width="2.75"/>
<line x1="187.99" x2="187.99" y1="1051.00" y2="1065.30" stroke="#ff00ff" stroke-width="2.75"/>
<line x1="327.28" x2="327.28" y1="978.38" y2="992.68" stroke="#ff00ff" stroke-width="2.75"/>
<line x1="466.57" x2="466.57" y1="903.72" y2="918.02" stroke="#ff00ff" stroke-width="2.75"/>
<line x1="605.86" x2="605.86" y1="872.56" y2="886.86" stroke="#ff00ff" stroke-width="2.75"/>
<line x1="745.15" x2="745.15" y1="874.05" y2="888.35" stroke="#ff00ff" stroke-width="2.75"/>
<line x1="884.45" x2="884.45" y1="812.27" y2="826.57" stroke="#ff00ff" stroke-width="2.75"/>
<line x1="981.95" x2="981.95" y1="782.46" y2="796.76" stroke="#ff00ff" stroke-width="2.75"/>
<polyline points="160.13,1061.16 174.06,1060.76 187.99,1067.53 201.92,1047.34 215.85,1032.03 229.78,1003.04 243.71,978.92 257.63,970.38 271.56,1010.76 285.49,1014.96 299.42,998.43 313.35,1024.17 327.28,1012.12 341.21,965.37 355.14,953.31 369.07,989.90 383.00,962.26 396.93,960.36 410.86,943.96 424.78,951.42 438.71,971.47 452.64,938.54 466.57,952.50 480.50,922.69 494.43,902.78 508.36,927.43 522.29,915.24 536.22,918.49 550.15,902.50 564.08,934.48 578.00,920.66 591.93,903.72 605.86,893.97 619.79,872.29 633.72,874.73 647.65,904.40 661.58,921.07 675.51,938.00 689.44,901.69 703.37,851.02 717.30,888.82 731.22,920.12 745.15,942.34 759.08,885.43 773.01,887.06 786.94,894.10 800.87,875.95 814.80,870.66 828.73,853.59 842.66,865.38 856.59,855.49 870.52,853.46 884.45,856.71 898.37,808.88 912.30,822.70 926.23,820.53 940.16,819.99 954.09,826.22 968.02,825.82 981.95,816.33" fill="none" stroke="#808080" stroke-width="2.35" stroke-linejoin="round"/>
<line x1="160.13" x2="160.13" y1="1061.16" y2="1046.86" stroke="#808080" stroke-width="2.75"/>
<line x1="201.92" x2="201.92" y1="1047.34" y2="1033.04" stroke="#808080" stroke-width="2.75"/>
<line x1="341.21" x2="341.21" y1="965.37" y2="951.07" stroke="#808080" stroke-width="2.75"/>
<line x1="480.50" x2="480.50" y1="922.69" y2="908.39" stroke="#808080" stroke-width="2.75"/>
<line x1="619.79" x2="619.79" y1="872.29" y2="857.99" stroke="#808080" stroke-width="2.75"/>
<line x1="759.08" x2="759.08" y1="885.43" y2="871.13" stroke="#808080" stroke-width="2.75"/>
<line x1="898.37" x2="898.37" y1="808.88" y2="794.58" stroke="#808080" stroke-width="2.75"/>
<line x1="981.95" x2="981.95" y1="816.33" y2="802.03" stroke="#808080" stroke-width="2.75"/>
<polyline points="160.13,1047.61 174.06,1047.07 187.99,1066.58 201.92,1049.38 215.85,1024.72 229.78,1022.01 243.71,987.32 257.63,1008.86 271.56,1044.50 285.49,1008.73 299.42,992.06 313.35,1030.00 327.28,993.82 341.21,951.82 355.14,988.81 369.07,992.47 383.00,1004.66 396.93,960.36 410.86,964.29 424.78,952.50 438.71,936.92 452.64,914.29 466.57,911.58 480.50,870.66 494.43,861.32 508.36,928.52 522.29,914.29 536.22,912.53 550.15,881.37 564.08,926.49 578.00,899.39 591.93,881.37 605.86,861.04 619.79,840.45 633.72,858.47 647.65,885.43 661.58,871.61 675.51,882.72 689.44,825.82 703.37,832.05 717.30,884.75 731.22,889.50 745.15,892.21 759.08,833.95 773.01,820.67 786.94,818.09 800.87,812.81 814.80,797.50 828.73,810.64 842.66,803.33 856.59,796.01 870.52,801.97 884.45,789.23 898.37,765.52 912.30,768.91 926.23,750.76 940.16,735.85 954.09,752.79 968.02,754.96 981.95,734.36" fill="none" stroke="#ffd000" stroke-width="2.35" stroke-linejoin="round"/>
<path d="M152.98,1040.46L167.28,1054.76M152.98,1054.76L167.28,1040.46" stroke="#ffd000" stroke-width="2.75" fill="none"/>
<path d="M208.70,1017.57L223.00,1031.87M208.70,1031.87L223.00,1017.57" stroke="#ffd000" stroke-width="2.75" fill="none"/>
<path d="M347.99,981.66L362.29,995.96M347.99,995.96L362.29,981.66" stroke="#ffd000" stroke-width="2.75" fill="none"/>
<path d="M487.28,854.17L501.58,868.47M487.28,868.47L501.58,854.17" stroke="#ffd000" stroke-width="2.75" fill="none"/>
<path d="M626.57,851.32L640.87,865.62M626.57,865.62L640.87,851.32" stroke="#ffd000" stroke-width="2.75" fill="none"/>
<path d="M765.86,813.52L780.16,827.82M765.86,827.82L780.16,813.52" stroke="#ffd000" stroke-width="2.75" fill="none"/>
<path d="M905.15,761.76L919.45,776.06M905.15,776.06L919.45,761.76" stroke="#ffd000" stroke-width="2.75" fill="none"/>
<path d="M974.80,727.21L989.10,741.51M974.80,741.51L989.10,727.21" stroke="#ffd000" stroke-width="2.75" fill="none"/>
<polyline points="160.13,1140.42 174.06,1124.17 187.99,1133.65 201.92,1122.95 215.85,1102.08 229.78,1064.62 243.71,1072.82 257.63,1063.60 271.56,1090.70 285.49,1078.51 299.42,1054.25 313.35,1064.28 327.28,1056.42 341.21,1034.20 355.14,1023.63 369.07,1040.57 383.00,1053.71 396.93,1042.60 410.86,1020.38 424.78,1012.39 438.71,1037.86 452.64,988.13 466.57,982.31 480.50,977.57 494.43,949.65 508.36,963.34 522.29,995.04 536.22,988.68 550.15,973.77 564.08,965.78 578.00,1001.95 591.93,986.51 605.86,964.97 619.79,933.53 633.72,940.17 647.65,967.67 661.58,958.19 675.51,954.94 689.44,952.36 703.37,921.07 717.30,956.02 731.22,977.23 745.15,990.98 759.08,919.98 773.01,898.98 786.94,921.07 800.87,903.05 814.80,894.10 828.73,893.56 842.66,902.64 856.59,904.67 870.52,888.41 884.45,877.84 898.37,886.92 912.30,869.44 926.23,862.06 940.16,868.36 954.09,841.94 968.02,851.56 981.95,851.97" fill="none" stroke="#00bfff" stroke-width="2.35" stroke-linejoin="round"/>
<polygon points="160.13,1130.31 166.20,1140.42 160.13,1150.54 154.06,1140.42" fill="none" stroke="#00bfff" stroke-width="2.75" stroke-linejoin="miter"/>
<polygon points="229.78,1054.51 235.84,1064.62 229.78,1074.73 223.71,1064.62" fill="none" stroke="#00bfff" stroke-width="2.75" stroke-linejoin="miter"/>
<polygon points="369.07,1030.46 375.13,1040.57 369.07,1050.68 363.00,1040.57" fill="none" stroke="#00bfff" stroke-width="2.75" stroke-linejoin="miter"/>
<polygon points="508.36,953.23 514.43,963.34 508.36,973.45 502.29,963.34" fill="none" stroke="#00bfff" stroke-width="2.75" stroke-linejoin="miter"/>
<polygon points="647.65,957.56 653.72,967.67 647.65,977.79 641.58,967.67" fill="none" stroke="#00bfff" stroke-width="2.75" stroke-linejoin="miter"/>
<polygon points="786.94,910.95 793.01,921.07 786.94,931.18 780.87,921.07" fill="none" stroke="#00bfff" stroke-width="2.75" stroke-linejoin="miter"/>
<polygon points="926.23,851.95 932.30,862.06 926.23,872.17 920.17,862.06" fill="none" stroke="#00bfff" stroke-width="2.75" stroke-linejoin="miter"/>
<polygon points="981.95,841.85 988.02,851.97 981.95,862.08 975.88,851.97" fill="none" stroke="#00bfff" stroke-width="2.75" stroke-linejoin="miter"/>
<polyline points="160.13,1066.99 174.06,1084.60 187.99,1099.64 201.92,1096.25 215.85,1070.92 229.78,1045.58 243.71,1036.50 257.63,1048.43 271.56,1062.79 285.49,1049.78 299.42,1042.87 313.35,1062.92 327.28,1062.79 341.21,1014.69 355.14,1036.91 369.07,1041.65 383.00,1059.54 396.93,1037.86 410.86,1018.21 424.78,1008.73 438.71,1015.10 452.64,974.86 466.57,982.31 480.50,962.66 494.43,939.36 508.36,970.11 522.29,985.02 536.22,968.89 550.15,945.59 564.08,964.69 578.00,981.77 591.93,958.33 605.86,947.76 619.79,920.66 633.72,915.78 647.65,934.89 661.58,926.89 675.51,933.80 689.44,903.72 703.37,895.19 717.30,956.02 731.22,949.65 745.15,950.47 759.08,890.45 773.01,896.81 786.94,904.40 800.87,889.50 814.80,886.25 828.73,878.79 842.66,897.36 856.59,881.91 870.52,879.61 884.45,875.14 898.37,861.04 912.30,859.42 926.23,836.66 940.16,829.75 954.09,819.72 968.02,876.90 981.95,893.83" fill="none" stroke="#0000ff" stroke-width="2.35" stroke-linejoin="round"/>
<polygon points="152.98,1059.84 167.28,1066.99 152.98,1074.14" fill="none" stroke="#0000ff" stroke-width="2.75" stroke-linejoin="miter"/>
<polygon points="236.56,1029.35 250.86,1036.50 236.56,1043.65" fill="none" stroke="#0000ff" stroke-width="2.75" stroke-linejoin="miter"/>
<polygon points="375.85,1052.39 390.15,1059.54 375.85,1066.69" fill="none" stroke="#0000ff" stroke-width="2.75" stroke-linejoin="miter"/>
<polygon points="515.14,977.87 529.44,985.02 515.14,992.17" fill="none" stroke="#0000ff" stroke-width="2.75" stroke-linejoin="miter"/>
<polygon points="654.43,919.74 668.73,926.89 654.43,934.04" fill="none" stroke="#0000ff" stroke-width="2.75" stroke-linejoin="miter"/>
<polygon points="793.72,882.35 808.02,889.50 793.72,896.65" fill="none" stroke="#0000ff" stroke-width="2.75" stroke-linejoin="miter"/>
<polygon points="933.01,822.60 947.31,829.75 933.01,836.90" fill="none" stroke="#0000ff" stroke-width="2.75" stroke-linejoin="miter"/>
<polygon points="974.80,886.68 989.10,893.83 974.80,900.98" fill="none" stroke="#0000ff" stroke-width="2.75" stroke-linejoin="miter"/>
<polyline points="480.50,850.88 494.43,852.37 508.36,838.55 522.29,836.93 536.22,838.55 550.15,852.91 564.08,865.52 578.00,896.27 591.93,885.70 605.86,826.49 619.79,785.44 633.72,825.82 647.65,874.86 661.58,868.50 675.51,905.21 689.44,859.69 703.37,819.45 717.30,880.55 731.22,889.50 745.15,943.35 759.08,842.35 773.01,803.33 786.94,800.21 800.87,845.46 814.80,857.11 828.73,868.09 842.66,849.66 856.59,796.42 870.52,790.05 884.45,792.62 898.37,796.28 912.30,767.56 926.23,745.47 940.16,806.85 954.09,732.74 968.02,752.79 981.95,771.89" fill="none" stroke="#0000cd" stroke-width="2.15" stroke-dasharray="8.2 3.5" stroke-linejoin="round"/>
<polyline points="480.50,897.90 494.43,894.10 508.36,897.36 522.29,911.18 536.22,896.27 550.15,877.30 564.08,902.37 578.00,916.87 591.93,896.27 605.86,884.08 619.79,876.49 633.72,870.53 647.65,885.43 661.58,904.67 675.51,920.12 689.44,887.33 703.37,919.30 717.30,955.89 731.22,957.65 745.15,958.19 759.08,919.30 773.01,887.60 786.94,882.32 800.87,865.11 814.80,849.66 828.73,839.09 842.66,824.46 856.59,798.04 870.52,803.60 884.45,791.40 898.37,778.40 912.30,799.40 926.23,794.11 940.16,778.40 954.09,766.61 968.02,762.41 981.95,732.74" fill="none" stroke="#ff7f0e" stroke-width="2.15" stroke-dasharray="8.2 3.5" stroke-linejoin="round"/>
<polyline points="522.29,958.87 536.22,939.63 550.15,918.49 564.08,909.41 578.00,913.21 591.93,897.63 605.86,877.30 619.79,865.79 633.72,864.30 647.65,862.67 661.58,863.21 675.51,869.04 689.44,848.44 703.37,858.47 717.30,881.64 731.22,883.13 745.15,887.06 759.08,861.32 773.01,852.91 786.94,850.75 800.87,845.46 814.80,825.41 828.73,825.95 842.66,821.21 856.59,796.42 870.52,796.28 884.45,806.58 898.37,794.11 912.30,780.29 926.23,761.32 940.16,732.74 954.09,707.26 968.02,693.04 981.95,661.87" fill="none" stroke="#007000" stroke-width="2.15" stroke-dasharray="8.2 3.5" stroke-linejoin="round"/>
</g>
<rect x="119.04" y="646.97" width="904.00" height="541.96" fill="none" stroke="#000" stroke-width="1.45"/>
<line x1="113.64" x2="119.04" y1="1188.93" y2="1188.93" stroke="#000" stroke-width="1.45"/>
<text x="108.10" y="1200.63" font-size="32.5" text-anchor="end">0.0</text>
<line x1="113.64" x2="119.04" y1="1121.18" y2="1121.18" stroke="#000" stroke-width="1.45"/>
<text x="108.10" y="1132.88" font-size="32.5" text-anchor="end">0.5</text>
<line x1="113.64" x2="119.04" y1="1053.44" y2="1053.44" stroke="#000" stroke-width="1.45"/>
<text x="108.10" y="1065.14" font-size="32.5" text-anchor="end">1.0</text>
<line x1="113.64" x2="119.04" y1="985.70" y2="985.70" stroke="#000" stroke-width="1.45"/>
<text x="108.10" y="997.40" font-size="32.5" text-anchor="end">1.5</text>
<line x1="113.64" x2="119.04" y1="917.95" y2="917.95" stroke="#000" stroke-width="1.45"/>
<text x="108.10" y="929.65" font-size="32.5" text-anchor="end">2.0</text>
<line x1="113.64" x2="119.04" y1="850.21" y2="850.21" stroke="#000" stroke-width="1.45"/>
<text x="108.10" y="861.91" font-size="32.5" text-anchor="end">2.5</text>
<line x1="113.64" x2="119.04" y1="782.46" y2="782.46" stroke="#000" stroke-width="1.45"/>
<text x="108.10" y="794.16" font-size="32.5" text-anchor="end">3.0</text>
<line x1="113.64" x2="119.04" y1="714.72" y2="714.72" stroke="#000" stroke-width="1.45"/>
<text x="108.10" y="726.42" font-size="32.5" text-anchor="end">3.5</text>
<line x1="113.64" x2="119.04" y1="646.97" y2="646.97" stroke="#000" stroke-width="1.45"/>
<text x="108.10" y="658.67" font-size="32.5" text-anchor="end">4.0</text>
<line x1="174.06" x2="174.06" y1="1188.93" y2="1194.3300000000002" stroke="#000" stroke-width="1.45"/>
<text x="174.06" y="1224.23" font-size="32.5" text-anchor="middle">1960</text>
<line x1="313.35" x2="313.35" y1="1188.93" y2="1194.3300000000002" stroke="#000" stroke-width="1.45"/>
<text x="313.35" y="1224.23" font-size="32.5" text-anchor="middle">1970</text>
<line x1="452.64" x2="452.64" y1="1188.93" y2="1194.3300000000002" stroke="#000" stroke-width="1.45"/>
<text x="452.64" y="1224.23" font-size="32.5" text-anchor="middle">1980</text>
<line x1="591.93" x2="591.93" y1="1188.93" y2="1194.3300000000002" stroke="#000" stroke-width="1.45"/>
<text x="591.93" y="1224.23" font-size="32.5" text-anchor="middle">1990</text>
<line x1="731.22" x2="731.22" y1="1188.93" y2="1194.3300000000002" stroke="#000" stroke-width="1.45"/>
<text x="731.22" y="1224.23" font-size="32.5" text-anchor="middle">2000</text>
<line x1="870.52" x2="870.52" y1="1188.93" y2="1194.3300000000002" stroke="#000" stroke-width="1.45"/>
<text x="870.52" y="1224.23" font-size="32.5" text-anchor="middle">2010</text>
<line x1="1009.81" x2="1009.81" y1="1188.93" y2="1194.3300000000002" stroke="#000" stroke-width="1.45"/>
<text x="1009.81" y="1224.23" font-size="32.5" text-anchor="middle">2020</text>
<text transform="translate(42.00,919.25) rotate(-90)" font-size="35.5" text-anchor="middle">Annual CO<tspan font-size="24.85" dy="6.21">2</tspan><tspan dy="-6.21"> flux (PgC yr</tspan><tspan font-size="24.85" dy="-14.20">−1</tspan><tspan dy="14.20">)</tspan></text>
<text transform="translate(10.5,646.5) scale(0.93,1.02)" font-family="'Liberation Sans',sans-serif" font-weight="bold" font-size="33.3">B</text>
<rect x="1065.2" y="656.2" width="304.0" height="523.7" rx="4.5" fill="#fff" stroke="#dadada" stroke-width="1.7"/>
<line x1="1076.3" x2="1129.9" y1="677.90" y2="677.90" stroke="#ff8000" stroke-width="2.35" stroke-linecap="square"/>
<circle cx="1103.10" cy="677.90" r="7.15" fill="none" stroke="#ff8000" stroke-width="2.75"/>
<text x="1152.0" y="687.65" font-size="26.97">CESM-ETH</text>
<line x1="1076.3" x2="1129.9" y1="717.57" y2="717.57" stroke="#1ec81e" stroke-width="2.35" stroke-linecap="square"/>
<polygon points="1095.95,710.42 1110.25,710.42 1103.10,724.72" fill="none" stroke="#1ec81e" stroke-width="2.75" stroke-linejoin="miter"/>
<text x="1152.0" y="727.32" font-size="26.97">MITgcm-REcoM</text>
<line x1="1076.3" x2="1129.9" y1="757.25" y2="757.25" stroke="#ff0000" stroke-width="2.35" stroke-linecap="square"/>
<polygon points="1103.10,747.14 1113.21,757.25 1103.10,767.36 1092.99,757.25" fill="none" stroke="#ff0000" stroke-width="2.75" stroke-linejoin="miter"/>
<text x="1152.0" y="767.00" font-size="26.97">FESOM-REcoM</text>
<line x1="1076.3" x2="1129.9" y1="796.92" y2="796.92" stroke="#8a2be2" stroke-width="2.35" stroke-linecap="square"/>
<polygon points="1095.95,789.77 1110.25,789.77 1110.25,804.07 1095.95,804.07" fill="none" stroke="#8a2be2" stroke-width="2.75" stroke-linejoin="miter"/>
<text x="1152.0" y="806.67" font-size="26.97">MPI</text>
<line x1="1076.3" x2="1129.9" y1="836.60" y2="836.60" stroke="#8b4513" stroke-width="2.35" stroke-linecap="square"/>
<polygon points="1103.10,829.45 1109.90,834.39 1107.30,842.38 1098.90,842.38 1096.30,834.39" fill="none" stroke="#8b4513" stroke-width="2.75" stroke-linejoin="miter"/>
<text x="1152.0" y="846.35" font-size="26.97">CNRM</text>
<line x1="1076.3" x2="1129.9" y1="876.27" y2="876.27" stroke="#ff00ff" stroke-width="2.35" stroke-linecap="square"/>
<line x1="1103.10" x2="1103.10" y1="876.27" y2="890.57" stroke="#ff00ff" stroke-width="2.75"/>
<text x="1152.0" y="886.02" font-size="26.97">NorESM</text>
<line x1="1076.3" x2="1129.9" y1="915.95" y2="915.95" stroke="#808080" stroke-width="2.35" stroke-linecap="square"/>
<line x1="1103.10" x2="1103.10" y1="915.95" y2="901.65" stroke="#808080" stroke-width="2.75"/>
<text x="1152.0" y="925.70" font-size="26.97">PlankTOM5</text>
<line x1="1076.3" x2="1129.9" y1="955.62" y2="955.62" stroke="#ffd000" stroke-width="2.35" stroke-linecap="square"/>
<path d="M1095.95,948.48L1110.25,962.77M1095.95,962.77L1110.25,948.48" stroke="#ffd000" stroke-width="2.75" fill="none"/>
<text x="1152.0" y="965.38" font-size="26.97">CSIRO</text>
<line x1="1076.3" x2="1129.9" y1="995.30" y2="995.30" stroke="#00bfff" stroke-width="2.35" stroke-linecap="square"/>
<polygon points="1103.10,985.19 1109.17,995.30 1103.10,1005.41 1097.03,995.30" fill="none" stroke="#00bfff" stroke-width="2.75" stroke-linejoin="miter"/>
<text x="1152.0" y="1005.05" font-size="26.97">MOM6-COBALT</text>
<line x1="1076.3" x2="1129.9" y1="1034.97" y2="1034.97" stroke="#0000ff" stroke-width="2.35" stroke-linecap="square"/>
<polygon points="1095.95,1027.82 1110.25,1034.97 1095.95,1042.12" fill="none" stroke="#0000ff" stroke-width="2.75" stroke-linejoin="miter"/>
<text x="1152.0" y="1044.72" font-size="26.97">IPSL</text>
<line x1="1076.0" x2="1129.6" y1="1074.65" y2="1074.65" stroke="#0000cd" stroke-width="2.3" stroke-dasharray="8 3.4"/>
<text x="1152.0" y="1084.40" font-size="26.97">Jena-MLS</text>
<line x1="1076.0" x2="1129.6" y1="1114.32" y2="1114.32" stroke="#ff7f0e" stroke-width="2.3" stroke-dasharray="8 3.4"/>
<text x="1152.0" y="1124.07" font-size="26.97">MPI-SOMFFN</text>
<line x1="1076.0" x2="1129.6" y1="1154.00" y2="1154.00" stroke="#007000" stroke-width="2.3" stroke-dasharray="8 3.4"/>
<text x="1152.0" y="1163.75" font-size="26.97">CMEMS</text>
</g>
</svg>
</body></html>
